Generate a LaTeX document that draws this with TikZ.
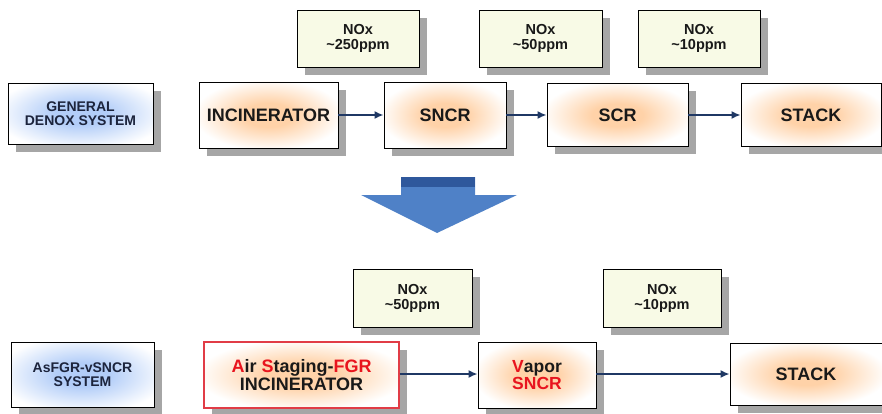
\documentclass[tikz,border=0pt]{standalone}
\usepackage{fontspec}
\setmainfont{Liberation Sans}
\usetikzlibrary{shadows,arrows.meta}
\definecolor{glowO}{RGB}{255,210,168}
\definecolor{glowB}{RGB}{178,205,248}
\definecolor{noxfill}{RGB}{248,250,230}
\definecolor{shadowgray}{RGB}{166,166,166}
\definecolor{arrowblue}{RGB}{31,56,100}
\definecolor{bigblue}{RGB}{79,129,199}
\definecolor{bigdark}{RGB}{47,88,156}
\definecolor{redtxt}{RGB}{232,20,30}
\definecolor{redline}{RGB}{225,60,70}
\definecolor{navytxt}{RGB}{28,36,60}
\definecolor{maintxt}{RGB}{25,25,25}
\pgfdeclareradialshading{orangeglow}{\pgfpoint{0bp}{0bp}}{color(0bp)=(glowO); color(9bp)=(glowO); color(27bp)=(white); color(50bp)=(white)}
\pgfdeclareradialshading{blueglow}{\pgfpoint{0bp}{0bp}}{color(0bp)=(glowB); color(9bp)=(glowB); color(30bp)=(white); color(50bp)=(white)}
\tikzset{
  base/.style={draw=black, line width=0.8pt, inner sep=0pt, align=center, text=maintxt,
    drop shadow={shadow xshift=8pt, shadow yshift=-8pt, fill=shadowgray, opacity=1}},
  proc/.style={base, shade, shading=orangeglow, font=\fontsize{18}{19}\selectfont\bfseries},
  nox/.style={base, fill=noxfill, font=\fontsize{14.5}{15}\selectfont\bfseries},
  sysbox/.style={base, shade, shading=blueglow, text=navytxt, font=\fontsize{14}{14}\selectfont\bfseries},
  flow/.style={-{Latex[length=9pt,width=8pt]}, draw=arrowblue, line width=1.8pt}
}
\begin{document}
\begin{tikzpicture}[x=1pt,y=-1pt]
\useasboundingbox (0,0) rectangle (882,414);
% top row
\node[sysbox, minimum width=145pt, minimum height=61pt] (sys1) at (80.5,113.5) {GENERAL\\DENOX SYSTEM};
\node[nox, minimum width=122pt, minimum height=57pt] (nox1) at (358,38.5) {NOx\\\textasciitilde250ppm};
\node[nox, minimum width=123pt, minimum height=57pt] (nox2) at (540.5,38.5) {NOx\\\textasciitilde50ppm};
\node[nox, minimum width=122pt, minimum height=57pt] (nox3) at (699,38.5) {NOx\\\textasciitilde10ppm};
\node[proc, minimum width=139pt, minimum height=66pt] (inc) at (268.5,115) {INCINERATOR};
\node[proc, minimum width=122pt, minimum height=66pt] (sncr) at (445,115) {SNCR};
\node[proc, minimum width=141pt, minimum height=63pt] (scr) at (617.5,115) {SCR};
\node[proc, minimum width=140pt, minimum height=63pt] (stack1) at (811,115) {STACK};
\draw[flow] (inc) -- (sncr);
\draw[flow] (sncr) -- (scr);
\draw[flow] (scr) -- (stack1);
% big arrow
\fill[bigblue] (401,177) -- (475,177) -- (475,195) -- (517,195) -- (437,233) -- (361,195) -- (401,195) -- cycle;
\fill[bigdark] (401,177) rectangle (475,187);
% bottom row
\node[sysbox, minimum width=143pt, minimum height=65pt] (sys2) at (82.5,374.5) {AsFGR-vSNCR\\SYSTEM};
\node[nox, minimum width=119pt, minimum height=58pt] (nox4) at (412.5,298) {NOx\\\textasciitilde50ppm};
\node[nox, minimum width=118pt, minimum height=58pt] (nox5) at (662,298) {NOx\\\textasciitilde10ppm};
\node[proc, draw=redline, line width=1.1pt, minimum width=195pt, minimum height=66pt, font=\fontsize{18}{14.5}\selectfont\bfseries] (asi) at (301.5,375)
  {\textcolor{redtxt}{A}ir \textcolor{redtxt}{S}taging-\textcolor{redtxt}{FGR}\\INCINERATOR};
\node[proc, minimum width=118pt, minimum height=66pt, font=\fontsize{17.5}{17}\selectfont\bfseries] (vap) at (537,375)
  {\textcolor{redtxt}{V}apor\\\textcolor{redtxt}{SNCR}};
\node[proc, minimum width=152pt, minimum height=62pt] (stack2) at (806,374) {STACK};
\draw[flow] (asi.east |- 0,374) -- (vap.west |- 0,374);
\draw[flow] (vap.east |- 0,374) -- (stack2.west |- 0,374);
\end{tikzpicture}
\end{document}
